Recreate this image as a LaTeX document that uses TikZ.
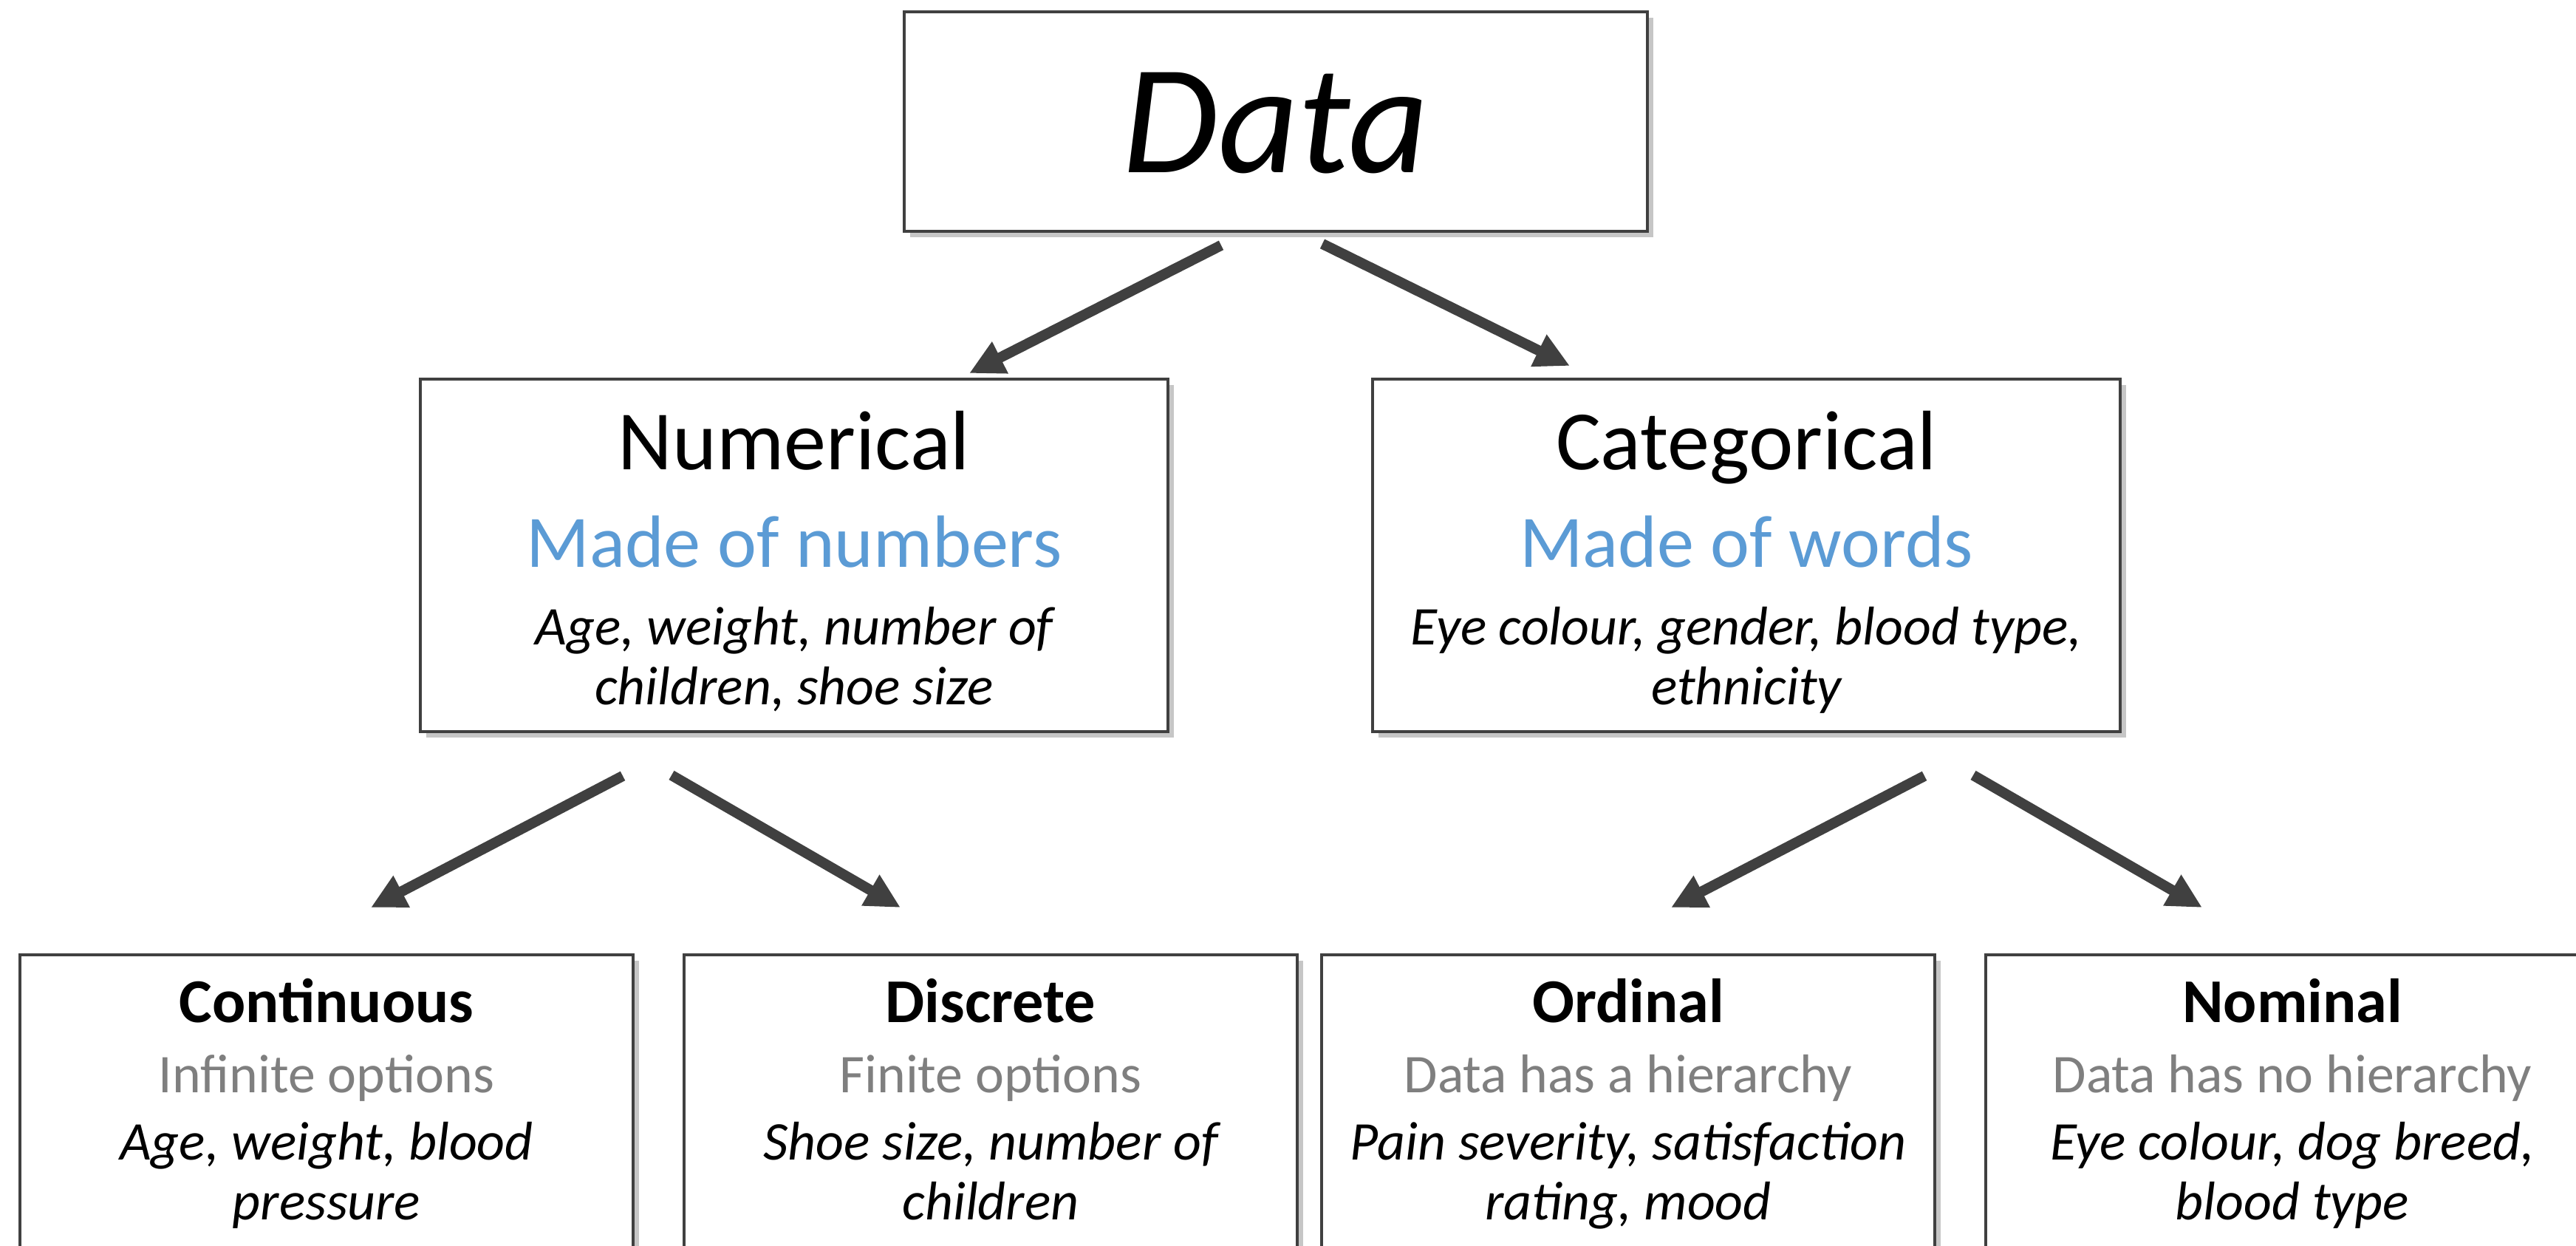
\documentclass[tikz,border=0pt]{standalone}
\usepackage{fontspec}
\setmainfont{Carlito}
\usetikzlibrary{positioning, shadows, arrows.meta}

\definecolor{wordblue}{HTML}{5B9BD5}
\definecolor{notegray}{HTML}{7F7F7F}
\definecolor{linegray}{HTML}{404040}

\begin{document}
\begin{tikzpicture}[box/.style={rectangle, draw=linegray, line width=1.1pt, fill=white,
      drop shadow={shadow xshift=.08cm, shadow yshift=-.08cm, opacity=.45}, inner sep=0pt},
    midbox/.style={box, minimum width=10.12cm, minimum height=4.77cm},
    lowbox/.style={box, minimum width=8.3cm, minimum height=5cm, anchor=north},
    head/.style={font=\fontsize{32.5}{39}\selectfont, anchor=base},
    made/.style={font=\fontsize{28.5}{34}\selectfont, text=wordblue, anchor=base},
    kind/.style={font=\fontsize{24}{29}\selectfont\bfseries, anchor=base},
    note/.style={font=\fontsize{21}{25}\selectfont, text=notegray, anchor=base},
    ex/.style={font=\fontsize{21}{23}\selectfont\itshape, align=center, anchor=base},
    arr/.style={draw=linegray, line width=4pt, -{Triangle[length=.47cm, width=.45cm]}}]

  \useasboundingbox (0,0) rectangle (34.87,-16.85);
  \clip (0,0) rectangle (34.87,-16.85);

  % top
  \node[box, minimum width=10.06cm, minimum height=2.97cm] (data) at (17.27,-1.645) {};
  \node[font=\fontsize{60}{72}\selectfont\itshape, anchor=base] (datatxt)
    at ([yshift=-.685cm]data.center) {Data};

  % second row
  \node[midbox] (num) at (10.75,-7.515) {};
  \node[midbox] (cat) at (23.64,-7.515) {};

  \node[head] (numhead) at ([yshift=-1.24cm]num.north) {Numerical};
  \node[made] (nummade) at ([yshift=-2.56cm]num.north) {Made of numbers};
  \node[ex] (numex) at ([yshift=-4.42cm]num.north) {Age, weight, number of\\children, shoe size};

  \node[head] (cathead) at ([yshift=-1.24cm]cat.north) {Categorical};
  \node[made] (catmade) at ([yshift=-2.56cm]cat.north) {Made of words};
  \node[ex] (catex) at ([yshift=-4.42cm]cat.north) {Eye colour, gender, blood type,\\ethnicity};

  % bottom row
  \node[lowbox] (cont) at (4.42,-12.90) {};
  \node[lowbox] (disc) at (13.41,-12.90) {};
  \node[lowbox] (ord) at (22.04,-12.90) {};
  \node[lowbox] (nom) at (31.03,-12.90) {};

  \node[kind] (contkind) at ([yshift=-.93cm]cont.north) {Continuous};
  \node[note] (contnote) at ([yshift=-1.88cm]cont.north) {Infinite options};
  \node[ex] (contex) at ([yshift=-3.60cm]cont.north) {Age, weight, blood\\pressure};

  \node[kind] (disckind) at ([yshift=-.93cm]disc.north) {Discrete};
  \node[note] (discnote) at ([yshift=-1.88cm]disc.north) {Finite options};
  \node[ex] (discex) at ([yshift=-3.60cm]disc.north) {Shoe size, number of\\children};

  \node[kind] (ordkind) at ([yshift=-.93cm]ord.north) {Ordinal};
  \node[note] (ordnote) at ([yshift=-1.88cm]ord.north) {Data has a hierarchy};
  \node[ex] (ordex) at ([yshift=-3.60cm]ord.north) {Pain severity, satisfaction\\rating, mood};

  \node[kind] (nomkind) at ([yshift=-.93cm]nom.north) {Nominal};
  \node[note] (nomnote) at ([yshift=-1.88cm]nom.north) {Data has no hierarchy};
  \node[ex] (nomex) at ([yshift=-3.60cm]nom.north) {Eye colour, dog breed,\\blood type};

  % arrows
  \draw[arr] ([shift={(-.74,-.17)}]data.south) -- ([shift={(2.37,.06)}]num.north);
  \draw[arr] ([shift={(.63,-.15)}]data.south) -- ([shift={(-2.39,.16)}]cat.north);
  \draw[arr] ([shift={(-2.32,-.58)}]num.south) -- ([shift={(.60,.62)}]cont.north);
  \draw[arr] ([shift={(-1.66,-.57)}]num.south) -- ([shift={(-1.22,.62)}]disc.north);
  \draw[arr] ([shift={(2.41,-.58)}]cat.south) -- ([shift={(.58,.62)}]ord.north);
  \draw[arr] ([shift={(3.07,-.57)}]cat.south) -- ([shift={(-1.22,.62)}]nom.north);
\end{tikzpicture}
\end{document}
